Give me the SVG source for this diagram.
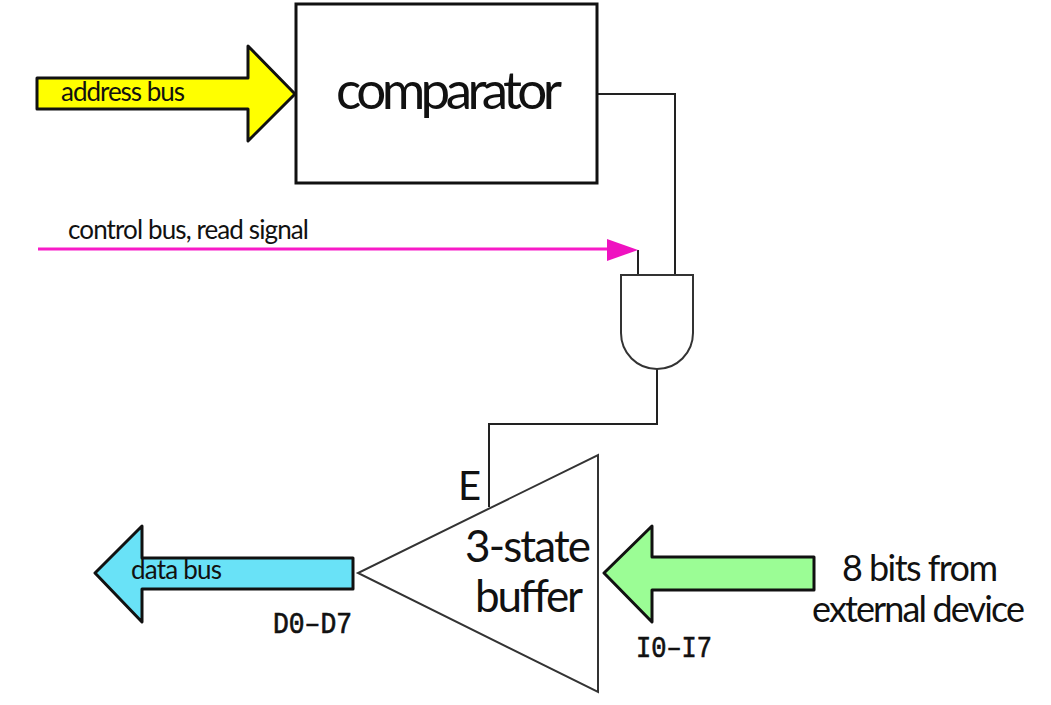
<svg xmlns="http://www.w3.org/2000/svg" width="1051" height="705" viewBox="0 0 1051 705">
<style>
text{font-family:Lato,"Open Sans","Liberation Sans",sans-serif;fill:#111}
.big{stroke:#111;stroke-width:3;stroke-linejoin:round}
.thin{fill:none;stroke:#222;stroke-width:2}
.mono{font-family:"Liberation Mono",monospace;font-size:30px;stroke:#111;stroke-width:.7}
</style>
<rect width="1051" height="705" fill="#fff"/>
<g id="connectors">
<path class="thin" d="M597 94H675V275"/>
<path class="thin" d="M638 250V275"/>
<path class="thin" d="M657 369V424H489V507"/>
<path d="M38 249H610" fill="none" stroke="#f81bc8" stroke-width="3"/>
<path d="M607 239L638 250L607 261Z" fill="#ef12c0"/>
</g>
<g id="address-bus">
<path class="big" fill="#ffff00" d="M37 78H248V46L295 94L248 141V109H37Z"/>
<text x="61" y="101" font-size="26" textLength="124">address bus</text>
</g>
<g id="comparator">
<rect x="296" y="4" width="301" height="179" fill="#fff" stroke="#111" stroke-width="3"/>
<text x="336" y="109" font-size="53" textLength="226">comparator</text>
</g>
<g id="control-bus-label">
<text x="68" y="239" font-size="26" textLength="241">control bus, read signal</text>
</g>
<g id="and-gate">
<path d="M621 275H693V333A36 36 0 0 1 621 333Z" fill="#fff" stroke="#333" stroke-width="2"/>
</g>
<g id="buffer">
<path d="M598 455V692L358 573Z" fill="#fff" stroke="#333" stroke-width="2"/>
<text x="465" y="562" font-size="44" textLength="126">3-state</text>
<text x="475" y="612" font-size="44" textLength="108">buffer</text>
<text x="458" y="500" font-size="40">E</text>
</g>
<g id="data-bus">
<path class="big" fill="#69e2f7" d="M353 558H142V526L95 573L142 622V589H353Z"/>
<text x="131" y="579" font-size="26" textLength="91">data bus</text>
<text class="mono" x="273" y="633" textLength="79" lengthAdjust="spacingAndGlyphs">D0–D7</text>
</g>
<g id="input-bits">
<path class="big" fill="#9bfd95" d="M814 557H652V526L604 573L652 622V590H814Z"/>
<text x="842" y="581" font-size="36" textLength="156">8 bits from</text>
<text x="812" y="622" font-size="36" textLength="213">external device</text>
<text class="mono" x="636" y="657" textLength="76" lengthAdjust="spacingAndGlyphs">I0–I7</text>
</g>
</svg>
